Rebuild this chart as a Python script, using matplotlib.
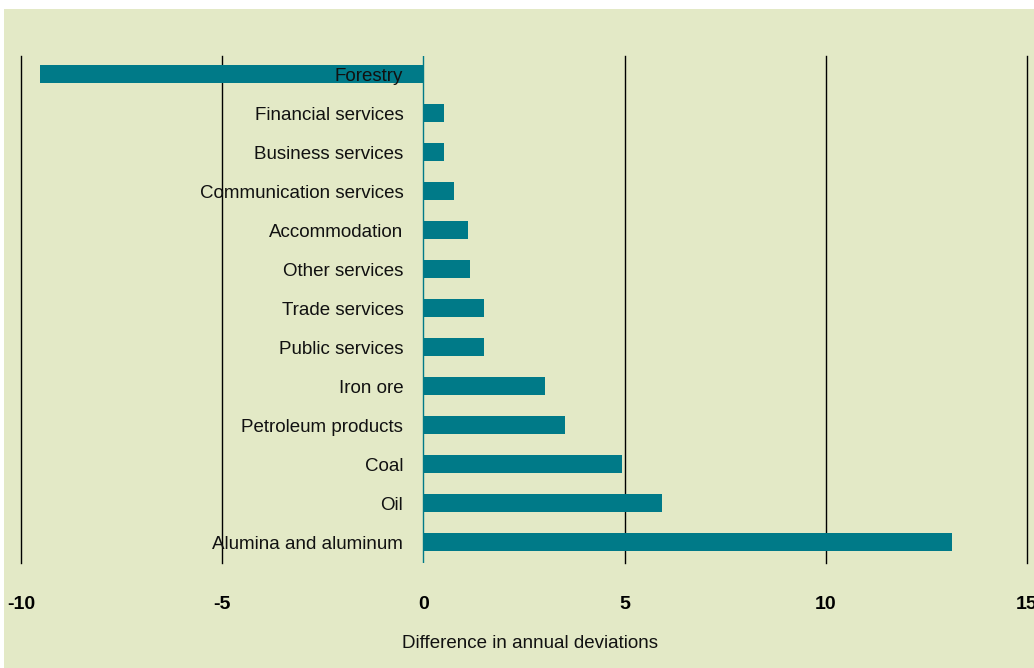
import numpy as np
import matplotlib.pyplot as plt
from matplotlib.patches import Rectangle

sectors = ['Alumina and aluminum', 'Oil', 'Coal', 'Petroleum products', 'Iron ore',
           'Public services', 'Trade services', 'Other services', 'Accommodation',
           'Communication services', 'Business services', 'Financial services', 'Forestry']
values = [13.13, 5.92, 4.93, 3.53, 3.03, 1.5, 1.5, 1.17, 1.1, 0.77, 0.5, 0.5, -9.53]
xticks = [-10, -5, 0, 5, 10, 15]

bg = '#e3e9c6'
bar_col = '#007a88'

plt.rcParams['font.family'] = ['Liberation Sans', 'DejaVu Sans']

fig = plt.figure(figsize=(10.34, 6.68), dpi=100, facecolor='white')
fig.patches.append(Rectangle((4 / 1034, 0), 1, 1 - 9 / 668, transform=fig.transFigure,
                             facecolor=bg, edgecolor='none', zorder=-1))
ax = fig.add_axes([21 / 1034, 1 - 563 / 668, (1027 - 21) / 1034, (563 - 56) / 668])
ax.set_facecolor(bg)

y = np.arange(len(sectors))
for xv in xticks:
    if xv != 0:
        ax.axvline(xv, color='black', lw=1, zorder=1, clip_on=False)
ax.barh(y, values, height=0.44, color=bar_col, zorder=2)
ax.axvline(0, color=bar_col, lw=1, zorder=3)

# labels sit just left of the zero line
for yi, name in zip(y, sectors):
    ax.text(-0.5, yi - 0.06, name, ha='right', va='center', fontsize=13.5, color='#111111', zorder=4)

ax.set_xlim(-10, 15)
ax.set_ylim(-0.54, 12.46)
ax.set_xticks(xticks)
ax.set_xticklabels([str(t) for t in xticks], fontweight='bold', fontsize=14)
ax.tick_params(axis='x', length=0, pad=24)
ax.set_yticks([])
for s in ax.spines.values():
    s.set_visible(False)

fig.text(530 / 1034, 1 - 643 / 668, 'Difference in annual deviations', ha='center', va='center',
         fontsize=13.5, color='#111111')

fig.savefig('out.png', dpi=100, facecolor=fig.get_facecolor())
